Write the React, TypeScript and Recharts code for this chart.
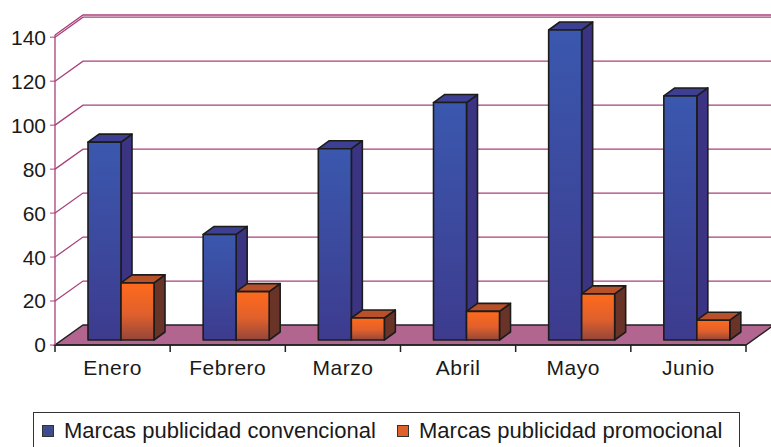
import { BarChart, Bar, XAxis, YAxis, CartesianGrid } from 'recharts';

// Marcas por mes
const months = ['Enero', 'Febrero', 'Marzo', 'Abril', 'Mayo', 'Junio'];
const convencional = [90, 48, 87, 108, 141, 111];
const promocional = [26, 22, 10, 13, 21, 9];
const yTicks = [0, 20, 40, 60, 80, 100, 120, 140];
const seriesNames = ['Marcas publicidad convencional', 'Marcas publicidad promocional'];

const data = months.map((mes, i) => ({ mes, conv: convencional[i], promo: promocional[i] }));

const W = 771;
const H = 447;
const TOP = 35;
const BOTTOM = 345;
const LEFT = 55;
const RIGHT = 746;

// perspectiva: pared del fondo, plano de las barras, profundidad de barra
const WALL_DX = 28;
const WALL_DY = -20;
const BAR_DX = 8;
const BAR_DY = -5;
const DEPTH_DX = 11;
const DEPTH_DY = -8;

const GRID = '#a9407a';
const FONT = '"Liberation Sans", Arial, sans-serif';

const blue = { front: 'url(#gradConv)', side: '#3b3482', top: '#3d3f92', swatch: '#3f4c8c' };
const orange = { front: 'url(#gradPromo)', side: '#6a3327', top: '#b8502a', swatch: '#e0602a' };

function bar3d(c: typeof blue) {
  return (props: any) => {
    const { x, y, width, height } = props;
    if (!height || height <= 0) return <g />;
    const fx = x + BAR_DX;
    const fy = y + BAR_DY;
    const fb = fy + height;
    const r = fx + width;
    const top = `${fx},${fy} ${fx + DEPTH_DX},${fy + DEPTH_DY} ${r + DEPTH_DX},${fy + DEPTH_DY} ${r},${fy}`;
    const side = `${r},${fy} ${r + DEPTH_DX},${fy + DEPTH_DY} ${r + DEPTH_DX},${fb + DEPTH_DY} ${r},${fb}`;
    return (
      <g stroke="#1c1c1c" strokeWidth={1.6} strokeLinejoin="round">
        <polygon points={side} fill={c.side} />
        <polygon points={top} fill={c.top} />
        <rect x={fx} y={fy} width={width} height={height} fill={c.front} />
      </g>
    );
  };
}

const wallLine = (props: any) => {
  const { x1, y1, x2, index } = props;
  const by = y1 + WALL_DY;
  const isFloor = Math.abs(y1 - BOTTOM) < 1;
  if (isFloor) {
    return (
      <g key={`wall-${index}`}>
        <polygon
          points={`${x1},${y1} ${x2},${y1} ${x2 + WALL_DX},${by} ${x1 + WALL_DX},${by}`}
          fill="#b2658f"
          stroke="#222"
          strokeWidth={1.5}
        />
      </g>
    );
  }
  return (
    <path
      key={`wall-${index}`}
      d={`M${x1},${y1} L${x1 + WALL_DX},${by} L${x2 + WALL_DX},${by}`}
      stroke={GRID}
      strokeWidth={1.3}
      fill="none"
    />
  );
};

const MonthTick = (props: any) => {
  const { x, payload, index } = props;
  const half = payload?.offset || (RIGHT - LEFT) / months.length / 2;
  return (
    <g>
      <line x1={x - half} y1={BOTTOM} x2={x - half} y2={BOTTOM + 7} stroke="#222" strokeWidth={1.5} />
      {index === months.length - 1 && (
        <line x1={x + half} y1={BOTTOM} x2={x + half} y2={BOTTOM + 7} stroke="#222" strokeWidth={1.5} />
      )}
      <text
        x={x}
        y={BOTTOM + 30}
        textAnchor="middle"
        fontSize={21}
        letterSpacing={0.5}
        fill="#1a1a1a"
        fontFamily={FONT}
      >
        {payload.value}
      </text>
    </g>
  );
};

export default function App() {
  return (
    <div style={{ position: 'absolute', left: 0, top: 0, width: W, height: H, background: '#fff', overflow: 'hidden' }}>
      <BarChart
        width={W}
        height={H}
        data={data}
        margin={{ top: TOP, right: W - RIGHT, left: 0, bottom: 0 }}
        barGap={0}
        barSize={33}
      >
        <defs>
          <linearGradient id="gradConv" x1="0" y1="0" x2="0" y2="1">
            <stop offset="0%" stopColor="#3a58ae" />
            <stop offset="100%" stopColor="#3d3b8e" />
          </linearGradient>
          <linearGradient id="gradPromo" x1="0" y1="0" x2="0" y2="1">
            <stop offset="0%" stopColor="#ff6a1c" />
            <stop offset="55%" stopColor="#e0602c" />
            <stop offset="100%" stopColor="#94463a" />
          </linearGradient>
        </defs>
        <CartesianGrid vertical={false} horizontal={wallLine} />
        <XAxis
          dataKey="mes"
          height={H - BOTTOM}
          axisLine={{ stroke: '#222', strokeWidth: 1.5 }}
          tickLine={false}
          tick={MonthTick}
          interval={0}
        />
        <YAxis
          width={LEFT}
          domain={[0, 140]}
          ticks={yTicks}
          axisLine={{ stroke: GRID, strokeWidth: 1.3 }}
          tickLine={{ stroke: GRID }}
          tickSize={5}
          tickMargin={4}
          tick={{ fontSize: 21, fill: '#1a1a1a', fontFamily: FONT }}
        />
        <Bar dataKey="conv" name={seriesNames[0]} shape={bar3d(blue)} isAnimationActive={false} />
        <Bar dataKey="promo" name={seriesNames[1]} shape={bar3d(orange)} isAnimationActive={false} />
      </BarChart>
      <div
        style={{
          position: 'absolute',
          left: 33,
          top: 412,
          width: 707,
          height: 60,
          border: '1px solid #333',
          boxSizing: 'border-box',
          fontFamily: FONT,
          fontSize: 22,
          color: '#1a1a1a',
        }}
      >
        {seriesNames.map((name, i) => (
          <div
            key={name}
            style={{ position: 'absolute', left: i === 0 ? 8 : 363, top: 5, display: 'flex', alignItems: 'center', whiteSpace: 'nowrap' }}
          >
            <span
              style={{
                display: 'inline-block',
                width: 10,
                height: 10,
                marginRight: 10,
                background: i === 0 ? blue.swatch : orange.swatch,
                border: '1px solid #333',
              }}
            />
            <span>{name}</span>
          </div>
        ))}
      </div>
    </div>
  );
}
